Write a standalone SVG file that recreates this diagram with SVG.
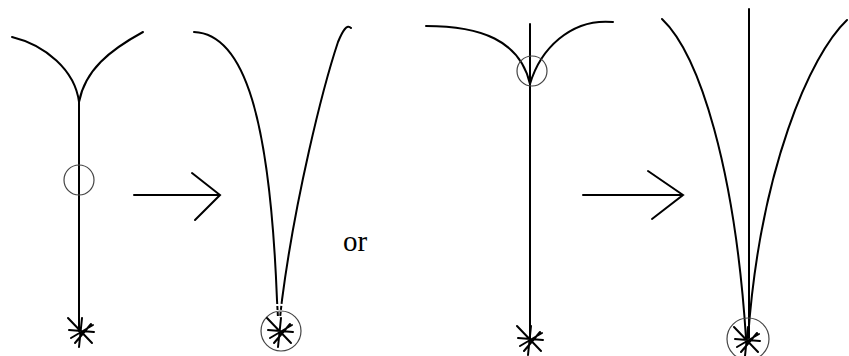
<svg xmlns="http://www.w3.org/2000/svg" width="849" height="356" viewBox="0 0 849 356">
<defs>
<style>
.ln{fill:none;stroke:#000;stroke-width:2;stroke-linecap:round}
.dash{fill:none;stroke:#000;stroke-width:2;stroke-dasharray:4 2}
.ring{fill:none;stroke:#444;stroke-width:1.2}
.txt{font-family:"Liberation Serif",serif;font-size:29px;fill:#000}
</style>
<g id="star">
<path class="ln" d="M-12,-13 L12,12 M-11,-1 L14,1 M-5,12 L11,-7 M-1,16 L2,-13 M13,-6 L-9,7"/>
</g>
</defs>
<rect width="849" height="356" fill="#fff"/>
<g id="panel1">
<path class="ln" d="M12,37 C45,45 75,70 79,102"/>
<path class="ln" d="M143,32 C110,50 85,70 79,102"/>
<path class="ln" d="M79,100 L79,331"/>
<circle class="ring" cx="79" cy="180" r="15"/>
<use href="#star" x="80" y="331"/>
</g>
<g id="panel2">
<path class="ln" d="M194,32 C245,34 270,120 277,300"/>
<path class="ln" d="M351,28 C347,24 343,30 338,42 C322,90 295,200 282,300"/>
<path class="dash" d="M277,300 L278,318 M282,300 L280,318"/>
<circle class="ring" cx="281" cy="331" r="20"/>
<use href="#star" x="279" y="331"/>
</g>
<g id="panel3">
<path class="ln" d="M426,26 C480,26 520,40 530,84"/>
<path class="ln" d="M613,22 C570,18 540,50 530,84"/>
<path class="ln" d="M530,24 L530,339"/>
<circle class="ring" cx="532" cy="71" r="15"/>
<use href="#star" x="529" y="339"/>
</g>
<g id="panel4">
<path class="ln" d="M749,9 L749,338"/>
<path class="ln" d="M662,19 C700,55 735,170 746,338"/>
<path class="ln" d="M847,20 C810,55 760,170 748,338"/>
<circle class="ring" cx="748" cy="339" r="21"/>
<use href="#star" x="746" y="340"/>
</g>
<g id="connectors">
<path class="ln" d="M134,195 L220,195 M192,173 L220,195 L195,220"/>
<path class="ln" d="M583,195 L683,195 M648,171 L683,195 L652,219"/>
</g>
<g id="label">
<text class="txt" x="355" y="251" text-anchor="middle">or</text>
</g>
</svg>
